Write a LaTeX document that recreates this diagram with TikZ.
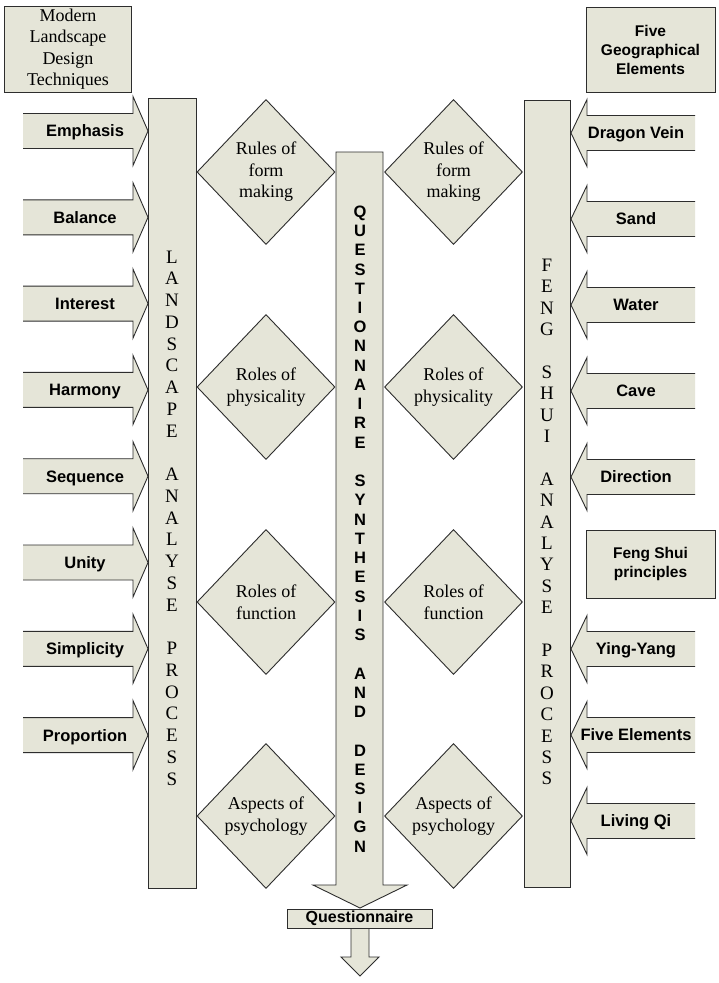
\documentclass[tikz,border=0pt]{standalone}
\usepackage{fontspec}
\setmainfont{Liberation Serif}
\setsansfont{Liberation Sans}
\usetikzlibrary{shapes.geometric}
\definecolor{boxfill}{RGB}{229,229,216}
\definecolor{edgec}{RGB}{45,45,45}
\tikzset{
  shp/.style={draw=edgec, fill=boxfill, line width=0.9pt, line join=miter},
  edgeline/.style={draw=edgec, line width=0.9pt, line join=miter},
  lbl/.style={font=\sffamily\bfseries\fontsize{16.5}{19}\selectfont, inner sep=0pt, text=black, text height=11.8pt, text depth=0pt},
  boxlbl/.style={shp, font=\sffamily\bfseries\fontsize{15.5}{19}\selectfont, inner sep=0pt, align=center},
  serbox/.style={shp, font=\fontsize{18}{21.5}\selectfont, inner sep=0pt, align=center},
  dia/.style={shp, diamond, minimum width=138pt, minimum height=145pt, inner sep=0pt, align=center, font=\fontsize{18}{21.5}\selectfont},
  vser/.style={inner sep=0pt, align=center},
  bar/.style={shp, inner sep=0pt}
}
\newcommand{\arrowL}[3]{%
  \fill[boxfill] (23,{#1-17.5}) -- (133,{#1-17.5}) -- (133,{#1-34.5}) -- (148,#1) -- (133,{#1+34.5}) -- (133,{#1+17.5}) -- (23,{#1+17.5}) -- cycle;
  \draw[edgeline] (23,{#1-17.5}) -- (133,{#1-17.5}) -- (133,{#1-34.5}) -- (148,#1) -- (133,{#1+34.5}) -- (133,{#1+17.5}) -- (23,{#1+17.5});
  \node[lbl] (#2) at (85,#1) {#3};}
\newcommand{\arrowR}[3]{%
  \fill[boxfill] (695,{#1-17.5}) -- (587,{#1-17.5}) -- (587,{#1-33.5}) -- (571,#1) -- (587,{#1+33.5}) -- (587,{#1+17.5}) -- (695,{#1+17.5}) -- cycle;
  \draw[edgeline] (695,{#1-17.5}) -- (587,{#1-17.5}) -- (587,{#1-33.5}) -- (571,#1) -- (587,{#1+33.5}) -- (587,{#1+17.5}) -- (695,{#1+17.5});
  \node[lbl] (#2) at (636,#1) {#3};}
\begin{document}
\begin{tikzpicture}[x=1pt,y=-1pt]
\useasboundingbox[fill=white] (0,0) rectangle (718,983);

% header boxes
\node[serbox, minimum width=127pt, minimum height=86pt] (mldt) at (68,49) {Modern\\Landscape\\Design\\Techniques};
\node[boxlbl, minimum width=129pt, minimum height=85pt] (fge) at (650.5,49.5) {Five\\Geographical\\Elements};
\node[boxlbl, minimum width=129pt, minimum height=68pt] (fsp) at (650.5,564) {Feng Shui\\principles};

% left input arrows
\arrowL{131}{emph}{Emphasis}
\arrowL{217.3}{bal}{Balance}
\arrowL{303.6}{inte}{Interest}
\arrowL{389.9}{harm}{Harmony}
\arrowL{476.2}{seq}{Sequence}
\arrowL{562.5}{unity}{Unity}
\arrowL{648.8}{simp}{Simplicity}
\arrowL{735.1}{prop}{Proportion}

% right input arrows
\arrowR{133}{dragon}{Dragon Vein}
\arrowR{219}{sand}{Sand}
\arrowR{305}{water}{Water}
\arrowR{391}{cave}{Cave}
\arrowR{477}{dir}{Direction}
\arrowR{649}{yy}{Ying-Yang}
\arrowR{735}{fiveel}{Five Elements}
\arrowR{821}{qi}{Living Qi}

% vertical bars
\node[bar, minimum width=48pt, minimum height=790pt] (lbar) at (172,493) {};
\node[bar, minimum width=46pt, minimum height=787pt] (rbar) at (547,493.5) {};
\node[vser, font=\fontsize{19}{21.75}\selectfont] (ltxt) at (172,518) {L\\A\\N\\D\\S\\C\\A\\P\\E\\[21.75pt]A\\N\\A\\L\\Y\\S\\E\\[21.75pt]P\\R\\O\\C\\E\\S\\S};
\node[vser, font=\fontsize{19}{21.4}\selectfont] (rtxt) at (547,522) {F\\E\\N\\G\\[21.4pt]S\\H\\U\\I\\[21.4pt]A\\N\\A\\L\\Y\\S\\E\\[21.4pt]P\\R\\O\\C\\E\\S\\S};

% central arrow
\draw[shp] (336,152) -- (383,152) -- (383,885) -- (407,885) -- (360,908) -- (313,885) -- (336,885) -- cycle;
\node[vser, font=\sffamily\bfseries\fontsize{16.5}{19.24}\selectfont] (ctxt) at (360,529) {Q\\U\\E\\S\\T\\I\\O\\N\\N\\A\\I\\R\\E\\[19.24pt]S\\Y\\N\\T\\H\\E\\S\\I\\S\\[19.24pt]A\\N\\D\\[19.24pt]D\\E\\S\\I\\G\\N};

% bottom output
\draw[shp] (351,928) -- (369,928) -- (369,957) -- (379,957) -- (360,976) -- (341,957) -- (351,957) -- cycle;
\node[boxlbl, minimum width=145pt, minimum height=19pt, font=\sffamily\bfseries\fontsize{16}{19}\selectfont] (quest) at (359.5,918.5) {Questionnaire};

% diamonds left
\node[dia] (lrf) at (266,172) {Rules of\\form\\making};
\node[dia] (lrp) at (266,387) {Roles of\\physicality};
\node[dia] (lrfn) at (266,602) {Roles of\\function};
\node[dia] (lap) at (266,816) {Aspects of\\psychology};
% diamonds right
\node[dia] (rrf) at (453.5,172) {Rules of\\form\\making};
\node[dia] (rrp) at (453.5,387) {Roles of\\physicality};
\node[dia] (rrfn) at (453.5,602) {Roles of\\function};
\node[dia] (rap) at (453.5,816) {Aspects of\\psychology};
\end{tikzpicture}
\end{document}
